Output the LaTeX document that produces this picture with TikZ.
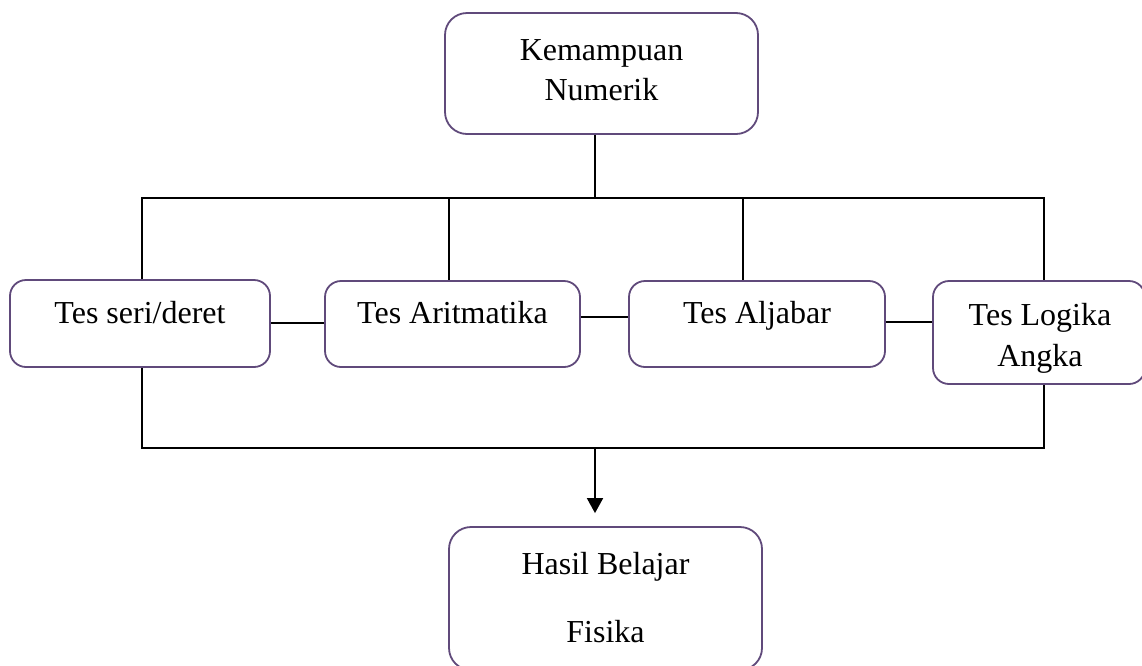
\documentclass[tikz,border=0pt]{standalone}
\usepackage{fontspec}
\setmainfont{Liberation Serif}
\usetikzlibrary{arrows.meta,calc}
\definecolor{boxcol}{RGB}{96,74,123}
\begin{document}
\begin{tikzpicture}[x=1pt,y=-1pt,
  box/.style={draw=boxcol,line width=1.8pt,rounded corners=16pt,inner sep=0pt,fill=white},
  txt/.style={anchor=base,inner sep=0pt,font=\fontsize{32}{40}\selectfont},
  conn/.style={draw=black,line width=1.8pt}]
\useasboundingbox (0,0) rectangle (1142,665);
% boxes
\node[box,minimum width=313pt,minimum height=121pt,rounded corners=22pt] (top) at (601.5,73.5) {};
\node[box,minimum width=260pt,minimum height=87pt] (b1) at (140,323.5) {};
\node[box,minimum width=255pt,minimum height=86pt] (b2) at (452.5,324) {};
\node[box,minimum width=256pt,minimum height=86pt] (b3) at (757,324) {};
\node[box,minimum width=212pt,minimum height=103pt] (b4) at (1039,332.5) {};
\node[box,minimum width=313pt,minimum height=143pt,rounded corners=22pt] (bot) at (605.5,598.5) {};
% texts
\node[txt] (t0a) at (601.5,60) {Kemampuan};
\node[txt] (t0b) at (601.5,100) {Numerik};
\node[txt] (t1) at (140,323) {Tes seri/deret};
\node[txt] (t2) at (452.5,323) {Tes Aritmatika};
\node[txt] (t3) at (757,323) {Tes Aljabar};
\node[txt] (t4a) at (1040,325) {Tes Logika};
\node[txt] (t4b) at (1040,366) {Angka};
\node[txt] (t5a) at (605.5,574) {Hasil Belajar};
\node[txt] (t5b) at (605.5,642) {Fisika};
% bus coordinates
\coordinate (tj) at (595,198);
\coordinate (tl) at (142,198);
\coordinate (tr) at (1044,198);
\coordinate (tb2) at (449,198);
\coordinate (tb3) at (743,198);
\coordinate (bl) at (142,448);
\coordinate (br) at (1044,448);
\coordinate (bj) at (595,448);
\coordinate (c12) at ($(b1.east)+(0,-0.5)$);
\coordinate (c23) at ($(b2.east)+(0,-7)$);
\coordinate (c34) at ($(b3.east)+(0,-2)$);
\coordinate (tip) at ($(bj |- bot.north)+(0,-13)$);
% top connectors
\draw[conn] (top.south -| tj) -- (tj);
\draw[conn] (b1.north -| tl) -- (tl) -- (tr) -- (b4.north -| tr);
\draw[conn] (tb2) -- (tb2 |- b2.north);
\draw[conn] (tb3) -- (tb3 |- b3.north);
% side connectors
\draw[conn] (c12) -- (c12 -| b2.west);
\draw[conn] (c23) -- (c23 -| b3.west);
\draw[conn] (c34) -- (c34 -| b4.west);
% bottom connectors
\draw[conn] (b1.south -| bl) -- (bl) -- (br) -- (b4.south -| br);
\draw[conn,-{Triangle[length=15pt,width=16pt]}] (bj) -- (tip);
\end{tikzpicture}
\end{document}
